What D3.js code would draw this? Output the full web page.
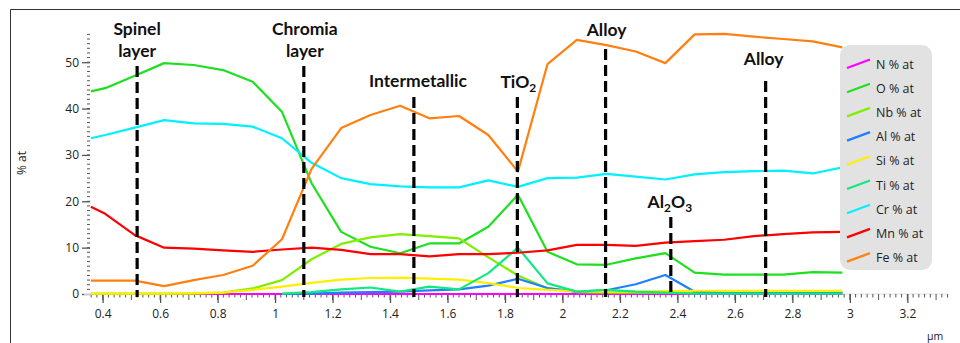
<!DOCTYPE html>
<html>
<head>
<meta charset="utf-8">
<script src="https://cdn.jsdelivr.net/npm/d3@7"></script>
<style>
  html, body { margin: 0; padding: 0; background: #fff; }
  svg { display: block; }
</style>
</head>
<body>
<svg id="chart" width="960" height="343"></svg>
<script>
// ---- data ----
const depth = [0.359, 0.409, 0.512, 0.614, 0.717, 0.819, 0.922, 1.024, 1.127, 1.230, 1.332, 1.435, 1.537, 1.640, 1.742, 1.845, 1.948, 2.050, 2.153, 2.255, 2.358, 2.460, 2.563, 2.666, 2.768, 2.871, 2.974];
const N  = [0, 0, 0, 0, 0, 0, 0, 0, 0, 0, 0, 0, 0, 0, 0, 0, 0, 0, 0, 0, 0, 0, 0, 0, 0, 0, 0];
const O  = [43.7, 44.4, 47.1, 49.8, 49.4, 48.3, 45.8, 39.3, 23.9, 13.4, 10.2, 8.8, 10.9, 10.9, 14.5, 21.4, 9.1, 6.4, 6.3, 7.7, 8.8, 4.6, 4.2, 4.2, 4.2, 4.7, 4.6];
const Nb = [0.1, 0.1, 0.1, 0.1, 0.1, 0.3, 1.2, 3.0, 7.5, 10.8, 12.2, 12.9, 12.5, 12.0, 7.9, 4.0, 1.2, 0.4, 0.3, 0.3, 0.3, 0.3, 0.3, 0.3, 0.3, 0.3, 0.3];
const Al = [null, null, null, null, null, null, null, 0.0, 0.1, 0.3, 0.4, 0.5, 0.8, 1.0, 1.8, 3.3, 1.3, 0.5, 0.8, 2.1, 4.1, 0.5, 0.2, 0.2, 0.2, 0.2, 0.2];
const Si = [0.1, 0.1, 0.1, 0.1, 0.2, 0.3, 0.9, 1.6, 2.4, 3.1, 3.45, 3.55, 3.3, 3.1, 2.35, 1.3, 0.9, 0.6, 0.5, 0.5, 0.6, 0.7, 0.7, 0.7, 0.7, 0.7, 0.7];
const Ti = [null, null, null, null, null, null, null, 0.1, 0.4, 1.0, 1.4, 0.5, 1.6, 1.0, 4.5, 10.0, 2.3, 0.5, 0.9, 0.5, 0.3, 0.1, 0.1, 0.1, 0.1, 0.1, 0.1];
const Cr = [33.6, 34.3, 35.9, 37.5, 36.8, 36.7, 36.1, 33.6, 28.3, 25.0, 23.7, 23.2, 23.0, 23.0, 24.5, 23.1, 25.0, 25.1, 25.9, 25.3, 24.7, 25.8, 26.3, 26.5, 26.6, 26.0, 27.3];
const Mn = [18.8, 17.3, 12.7, 10.0, 9.8, 9.4, 9.1, 9.6, 10.0, 9.5, 8.6, 8.6, 8.1, 8.6, 8.6, 8.9, 9.4, 10.6, 10.6, 10.4, 11.1, 11.4, 11.7, 12.5, 12.9, 13.3, 13.4];
const Fe = [2.9, 2.9, 2.9, 1.7, 3.0, 4.1, 6.1, 11.8, 27.0, 35.8, 38.6, 40.6, 37.9, 38.4, 34.3, 26.4, 49.6, 54.8, 53.7, 52.3, 49.8, 56.0, 56.1, 55.5, 55.0, 54.5, 53.2];

const seriesNames  = ["N % at", "O % at", "Nb % at", "Al % at", "Si % at", "Ti % at", "Cr % at", "Mn % at", "Fe % at"];
const seriesValues = [N, O, Nb, Al, Si, Ti, Cr, Mn, Fe];
const seriesColors = ["#ff00ff", "#1ee01e", "#80ee00", "#1e7fff", "#ffee00", "#10e880", "#00f0ff", "#ff0000", "#ff8010"];

const xTickValues = [0.4, 0.6, 0.8, 1.0, 1.2, 1.4, 1.6, 1.8, 2.0, 2.2, 2.4, 2.6, 2.8, 3.0, 3.2];
const yTickValues = [0, 10, 20, 30, 40, 50];

const markerNames = ["Spinel|layer", "Chromia|layer", "Intermetallic", "TiO2", "Alloy", "Al2O3", "Alloy"];
const markerDepth = [0.52, 1.10, 1.483, 1.843, 2.15, 2.377, 2.707];

// ---- layout ----
const svg = d3.select("#chart");
const x = d3.scaleLinear().domain([0.356, 3.338]).range([90, 947]);
const y = d3.scaleLinear().domain([0, 56.3]).range([294, 33]);

// frame (top & left)
svg.append("line").attr("x1", 10.5).attr("x2", 960).attr("y1", 9.5).attr("y2", 9.5).attr("stroke", "#333").attr("stroke-width", 1);
svg.append("line").attr("x1", 10.5).attr("x2", 10.5).attr("y1", 9.5).attr("y2", 343).attr("stroke", "#333").attr("stroke-width", 1);

const axisFont = "'Open Sans', 'Noto Sans', sans-serif";

// x axis: minor ticks
const gx = svg.append("g").attr("transform", "translate(0,294)");
gx.append("line").attr("x1", 90).attr("x2", 947).attr("stroke", "#ddd");
const xMinor = d3.range(0.36, 3.341, 0.02).map(v => +v.toFixed(2));
gx.selectAll("line.minor").data(xMinor).join("line")
  .attr("class", "minor")
  .attr("x1", d => x(d)).attr("x2", d => x(d))
  .attr("y1", 0)
  .attr("y2", d => (Math.abs(Math.round(d * 10) - d * 10) < 1e-6) ? 6 : 3.5)
  .attr("stroke", "#555").attr("stroke-width", 1);
const xAxis = d3.axisBottom(x).tickValues(xTickValues).tickSize(9).tickPadding(6).tickFormat(d3.format("~g"));
const gxa = gx.append("g").call(xAxis);
gxa.select(".domain").remove();
gxa.selectAll(".tick line").attr("stroke", "#555").attr("stroke-width", 1.3);
gxa.selectAll(".tick text").attr("font-family", axisFont).attr("font-size", 12).attr("fill", "#222");

// y axis
const gy = svg.append("g").attr("transform", "translate(90,0)");
const yMinor = d3.range(1, 57, 1);
gy.selectAll("line.minor").data(yMinor).join("line")
  .attr("class", "minor")
  .attr("x1", -3).attr("x2", 0)
  .attr("y1", d => y(d)).attr("y2", d => y(d))
  .attr("stroke", "#555").attr("stroke-width", 1);
const yAxis = d3.axisLeft(y).tickValues(yTickValues).tickSize(8).tickPadding(3);
const gya = gy.append("g").call(yAxis);
gya.select(".domain").remove();
gya.selectAll(".tick line").attr("stroke", "#555").attr("stroke-width", 1.3);
gya.selectAll(".tick text").attr("font-family", axisFont).attr("font-size", 12).attr("fill", "#222");
svg.append("line").attr("x1", 84).attr("x2", 92).attr("y1", 294.5).attr("y2", 294.5).attr("stroke", "#ccc");

// axis titles
svg.append("text").attr("transform", "translate(26,163) rotate(-90)")
  .attr("text-anchor", "middle").attr("font-family", axisFont).attr("font-size", 12).attr("fill", "#222").text("% at");
svg.append("text").attr("x", 935).attr("y", 340).attr("text-anchor", "middle")
  .attr("font-family", axisFont).attr("font-size", 10.5).attr("fill", "#222").text("µm");

// ---- series ----
const line = d3.line()
  .defined(d => d[1] !== null)
  .x(d => x(d[0])).y(d => y(d[1]));
const gs = svg.append("g");
seriesValues.forEach((vals, i) => {
  gs.append("path")
    .datum(depth.map((d, j) => [d, vals[j]]))
    .attr("fill", "none")
    .attr("stroke", seriesColors[i])
    .attr("stroke-width", 2.2)
    .attr("stroke-linejoin", "round")
    .attr("d", line);
});

// ---- marker dashed lines & labels ----
const labelFont = "Lato, 'Open Sans', sans-serif";
const markerTop = [66, 66, 97, 97, 49, 217, 81];
const gm = svg.append("g");
markerDepth.forEach((d, i) => {
  gm.append("line")
    .attr("x1", x(d)).attr("x2", x(d))
    .attr("y1", markerTop[i]).attr("y2", 297)
    .attr("stroke", "#000").attr("stroke-width", 3.2)
    .attr("stroke-dasharray", "11,5");
});

function addLabel(cx, baseline, parts, size) {
  const t = gm.append("text").attr("x", cx).attr("y", baseline)
    .attr("text-anchor", "middle").attr("font-family", labelFont)
    .attr("font-weight", "bold").attr("font-size", size).attr("fill", "#111");
  parts.forEach(p => {
    const ts = t.append("tspan").text(p.t);
    if (p.sub) ts.attr("font-size", size * 0.68).attr("dy", 4);
    else if (p.after) ts.attr("dy", -4);
  });
}
const LS = 17.5;
addLabel(x(markerDepth[0]), 35, [{t: "Spinel"}], LS);
addLabel(x(markerDepth[0]), 57, [{t: "layer"}], LS);
addLabel(x(markerDepth[1]) + 1, 35, [{t: "Chromia"}], LS);
addLabel(x(markerDepth[1]) + 1, 57, [{t: "layer"}], LS);
addLabel(x(markerDepth[2]) + 4, 86.5, [{t: "Intermetallic"}], LS);
addLabel(x(markerDepth[3]) + 1, 88, [{t: "TiO"}, {t: "2", sub: true}], LS);
addLabel(x(markerDepth[4]) + 1, 36, [{t: "Alloy"}], LS);
addLabel(x(markerDepth[5]) - 1, 208, [{t: "Al"}, {t: "2", sub: true}, {t: "O", after: true}, {t: "3", sub: true}], LS);
addLabel(x(markerDepth[6]) - 2, 65, [{t: "Alloy"}], LS);

// ---- legend ----
const lg = svg.append("g").attr("transform", "translate(840,45)");
lg.append("rect").attr("width", 92).attr("height", 225).attr("rx", 10).attr("ry", 10).attr("fill", "#e2e2e2");
seriesNames.forEach((n, i) => {
  const cy = 19 + i * 24.2;
  lg.append("line").attr("x1", 7).attr("x2", 30).attr("y1", cy + 4).attr("y2", cy - 4.5)
    .attr("stroke", seriesColors[i]).attr("stroke-width", 2.2);
  lg.append("text").attr("x", 36).attr("y", cy + 4.5)
    .attr("font-family", axisFont).attr("font-size", 12.5).attr("fill", "#222").text(n);
});
</script>
</body>
</html>
